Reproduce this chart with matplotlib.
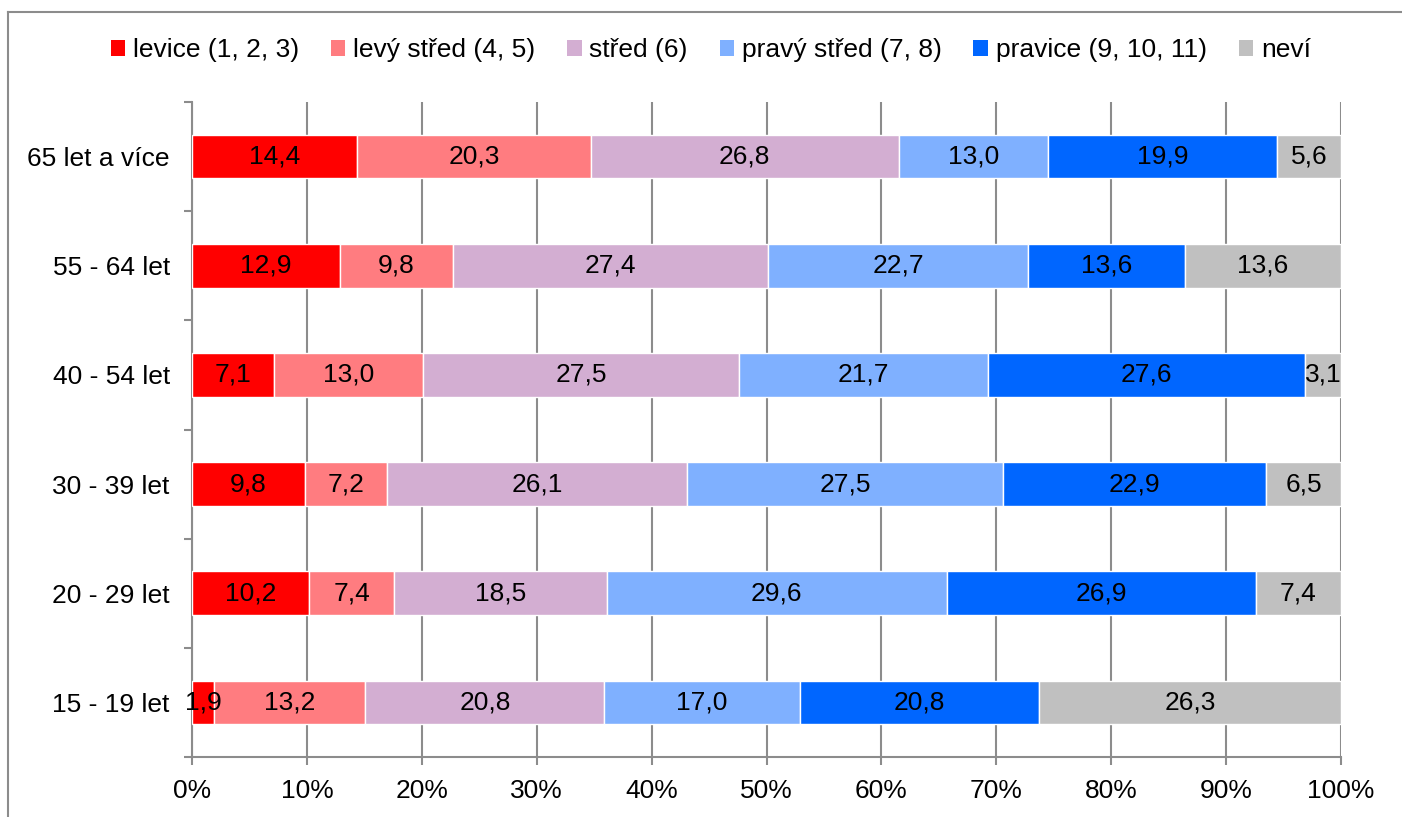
import matplotlib.pyplot as plt
import numpy as np
from matplotlib.lines import Line2D
from matplotlib.patches import Patch

plt.rcParams['font.family'] = ['Liberation Sans', 'DejaVu Sans']

age_groups = ['65 let a více', '55 - 64 let', '40 - 54 let', '30 - 39 let', '20 - 29 let', '15 - 19 let']
series_labels = ['levice (1, 2, 3)', 'levý střed (4, 5)', 'střed (6)',
                 'pravý střed (7, 8)', 'pravice (9, 10, 11)', 'neví']
colors = ['#FF0000', '#FF7C80', '#D3AED2', '#7FB0FF', '#0066FF', '#C0C0C0']

levice = [14.4, 12.9, 7.1, 9.8, 10.2, 1.9]
levy_stred = [20.3, 9.8, 13.0, 7.2, 7.4, 13.2]
stred = [26.8, 27.4, 27.5, 26.1, 18.5, 20.8]
pravy_stred = [13.0, 22.7, 21.7, 27.5, 29.6, 17.0]
pravice = [19.9, 13.6, 27.6, 22.9, 26.9, 20.8]
nevi = [5.6, 13.6, 3.1, 6.5, 7.4, 26.3]

data = np.array([levice, levy_stred, stred, pravy_stred, pravice, nevi])
totals = data.sum(axis=0)
shares = data / totals * 100

fig = plt.figure(figsize=(14.02, 8.17), dpi=100)
ax = fig.add_axes([192 / 1402, 1 - 757 / 817, 1149 / 1402, 655 / 817])

# frame around the chart area (left and top edges visible)
fig.add_artist(Line2D([8 / 1402, 8 / 1402], [0, 1 - 12 / 817], transform=fig.transFigure,
                      color='#8c8c8c', lw=1.5))
fig.add_artist(Line2D([8 / 1402, 1], [1 - 12 / 817, 1 - 12 / 817], transform=fig.transFigure,
                      color='#8c8c8c', lw=1.5))

y = np.arange(len(age_groups))
left = np.zeros(len(age_groups))
for i, lab in enumerate(series_labels):
    ax.barh(y, shares[i], left=left, height=0.4, color=colors[i], edgecolor='white',
            linewidth=1, label=lab, zorder=3)
    for j in range(len(age_groups)):
        ax.text(left[j] + shares[i][j] / 2, y[j], f'{data[i][j]:.1f}'.replace('.', ','),
                ha='center', va='center', fontsize=19, color='black', zorder=4)
    left += shares[i]

ax.set_xlim(0, 100)
ax.set_ylim(len(age_groups) - 0.5, -0.5)
ax.set_xticks(np.arange(0, 101, 10))
ax.set_xticklabels([f'{v}%' for v in range(0, 101, 10)], fontsize=19)
ax.set_yticks(y)
ax.set_yticklabels(age_groups, fontsize=19)
ax.set_yticks(np.arange(-0.5, len(age_groups), 1), minor=True)
ax.tick_params(axis='y', which='major', length=0, pad=16)
ax.tick_params(axis='y', which='minor', length=6, color='#8c8c8c', width=1.5)
ax.tick_params(axis='x', length=6, color='#8c8c8c', width=1.5, pad=10)
ax.grid(axis='x', color='#8c8c8c', linewidth=1.5, zorder=0)
ax.set_axisbelow(True)
for s in ['top', 'right']:
    ax.spines[s].set_visible(False)
for s in ['left', 'bottom']:
    ax.spines[s].set_color('#8c8c8c')
    ax.spines[s].set_linewidth(1.5)

handles = [Patch(facecolor=c, edgecolor='none') for c in colors]
fig.legend(handles, series_labels, loc='center', bbox_to_anchor=(0.507, 1 - 50 / 817), ncol=6,
           frameon=False, fontsize=19, handlelength=0.55, handleheight=0.55,
           handletextpad=0.3, columnspacing=1.2)

fig.savefig('out.png', dpi=100)
